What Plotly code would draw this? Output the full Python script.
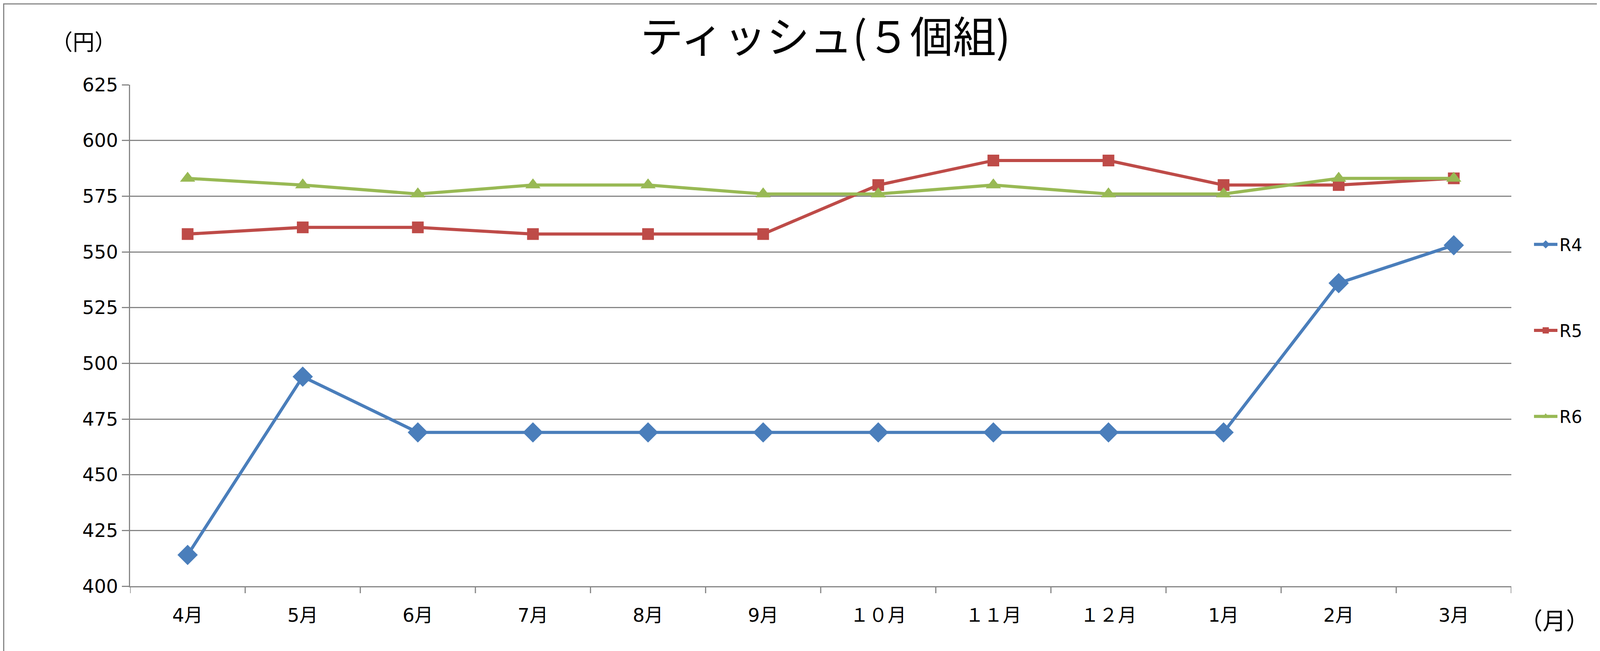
import plotly.graph_objects as go

months = ["4月", "5月", "6月", "7月", "8月", "9月", "１０月", "１１月", "１２月", "1月", "2月", "3月"]
r4 = [414, 494, 469, 469, 469, 469, 469, 469, 469, 469, 536, 553]
r5 = [558, 561, 561, 558, 558, 558, 580, 591, 591, 580, 580, 583]
r6 = [583, 580, 576, 580, 580, 576, 576, 580, 576, 576, 583, 583]
series = [("R4", r4, "#4a7ebb", "diamond", 40), ("R5", r5, "#be4b48", "square", 30), ("R6", r6, "#98b954", "triangle-up", 34)]

W, H = 4210, 1667
fig = go.Figure()
for name, vals, col, sym, sz in series:
    fig.add_trace(go.Scatter(x=list(range(len(months))), y=vals, name=name, mode="lines+markers",
                             line=dict(color=col, width=8), marker=dict(symbol=sym, size=sz, color=col),
                             legendgroup=name))

font = "DejaVu Sans, Noto Sans CJK JP"
fig.update_layout(
    width=W, height=H, paper_bgcolor="white", plot_bgcolor="white",
    margin=dict(l=325, r=W - 3861, t=209, b=H - 1493),
    font=dict(family=font, size=48, color="black"),
    title=dict(text="ティッシュ(５個組)", x=0.5, xanchor="center", y=0.97, yanchor="top",
               font=dict(size=110, family="Noto Sans CJK JP")),
    showlegend=True,
    legend=dict(x=1.015, xanchor="left", y=0.51, yanchor="middle", tracegroupgap=160, font=dict(size=44),
                itemwidth=60),
    xaxis=dict(range=[-0.5, 11.5], tickvals=list(range(12)), ticktext=months, showgrid=False,
               showline=True, linecolor="#868686", linewidth=3, ticks="", zeroline=False),
    yaxis=dict(range=[400, 625], dtick=25, showgrid=True, gridcolor="#868686", gridwidth=3,
               showline=True, linecolor="#868686", linewidth=3, ticks="outside", ticklen=18, tickcolor="#868686",
               tickwidth=3, zeroline=False),
)
for k in range(13):
    fig.add_shape(type="line", xref="x", yref="paper", x0=k - 0.5, x1=k - 0.5, y0=0, y1=-0.014,
                  line=dict(color="#868686", width=3))
fig.add_annotation(text="（円）", xref="paper", yref="paper", x=-0.058, y=1.055, xanchor="left", yanchor="bottom",
                   showarrow=False, font=dict(size=56, family="Noto Sans CJK JP"))
fig.add_annotation(text="（月）", xref="paper", yref="paper", x=1.005, y=-0.03, xanchor="left", yanchor="top",
                   showarrow=False, font=dict(size=60, family="Noto Sans CJK JP"))
fig.add_shape(type="rect", xref="paper", yref="paper", x0=-0.0915, x1=1.0896, y0=-0.1355, y1=1.1613,
              line=dict(color="#868686", width=3))
fig.update_xaxes(tickfont=dict(size=48), ticklabelstandoff=30)
fig.write_html("out.html")
